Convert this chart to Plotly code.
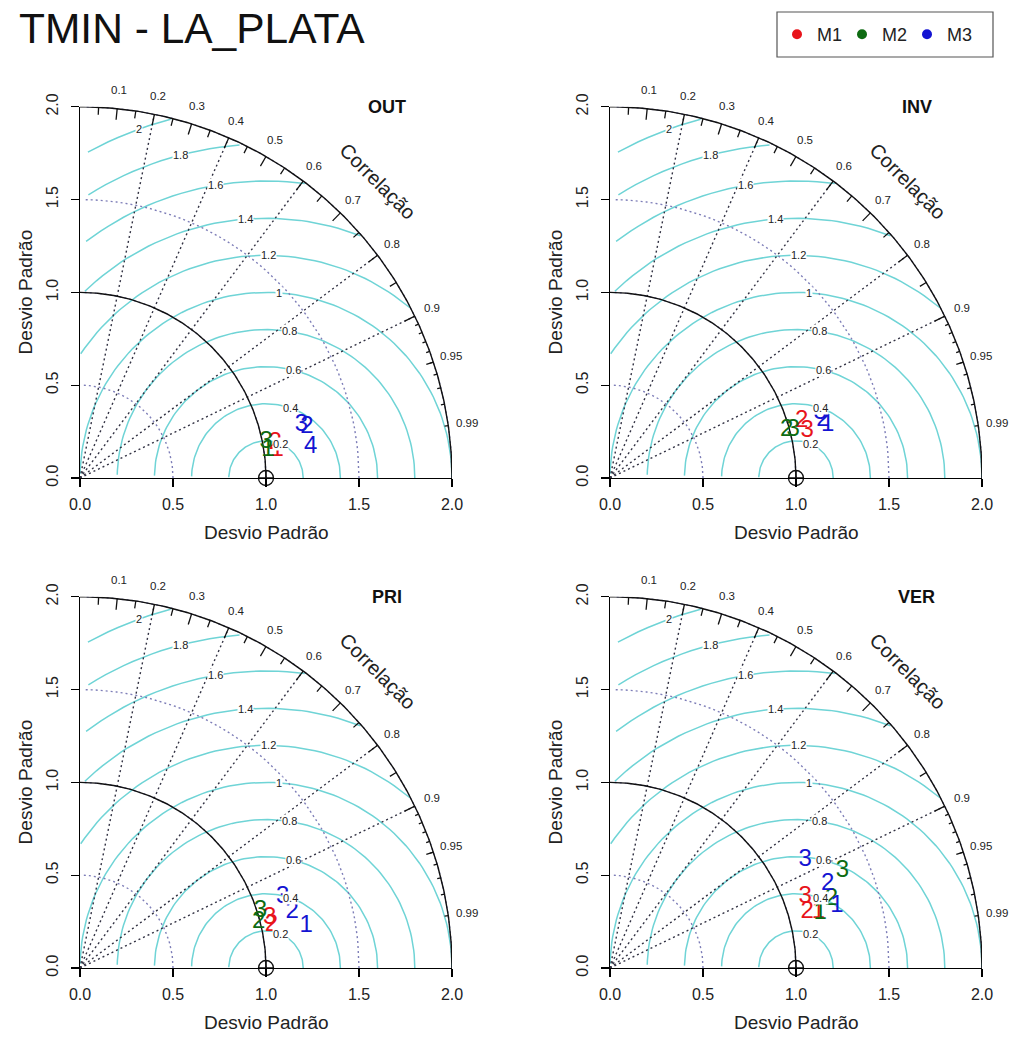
import numpy as np
import plotly.graph_objects as go

W, H = 1012, 1039

# ---------------- data ----------------
TITLE = "TMIN - LA_PLATA"
PANELS = ["OUT", "INV", "PRI", "VER"]
MODELS = ["M1", "M2", "M3"]
MODEL_COLORS = ["#E8141B", "#0E6B12", "#1414D2"]

OUT_MODEL = ["M1", "M1", "M2", "M2", "M3", "M3", "M3"]
OUT_ID = ["2", "1", "3", "1", "3", "2", "4"]
OUT_SD = [1.067, 1.071, 1.019, 1.021, 1.225, 1.250, 1.252]
OUT_COR = [0.984, 0.990, 0.982, 0.989, 0.972, 0.976, 0.991]

INV_MODEL = ["M1", "M1", "M2", "M2", "M3", "M3", "M3"]
INV_ID = ["2", "3", "2", "3", "3", "2", "1"]
INV_SD = [1.076, 1.089, 0.985, 1.019, 1.183, 1.186, 1.204]
INV_COR = [0.958, 0.973, 0.965, 0.967, 0.955, 0.965, 0.972]

PRI_MODEL = ["M1", "M1", "M2", "M2", "M3", "M3", "M3"]
PRI_ID = ["3", "2", "3", "2", "3", "2", "1"]
PRI_SD = [1.055, 1.055, 1.018, 0.992, 1.154, 1.179, 1.237]
PRI_COR = [0.967, 0.976, 0.953, 0.968, 0.944, 0.967, 0.983]

VER_MODEL = ["M1", "M1", "M1", "M2", "M2", "M2", "M3", "M3", "M3"]
VER_ID = ["3", "2", "1", "3", "2", "1", "3", "2", "1"]
VER_SD = [1.117, 1.102, 1.160, 1.354, 1.246, 1.169, 1.200, 1.254, 1.264]
VER_COR = [0.940, 0.962, 0.966, 0.923, 0.955, 0.967, 0.875, 0.933, 0.965]

SD_TICKS = [0.0, 0.5, 1.0, 1.5, 2.0]
SD_TICK_TEXT = ["0.0", "0.5", "1.0", "1.5", "2.0"]
COR_LABELS = [0.1, 0.2, 0.3, 0.4, 0.5, 0.6, 0.7, 0.8, 0.9, 0.95, 0.99]
COR_LINES = [0.2, 0.4, 0.6, 0.8, 0.9]
RMS_LEVELS = [0.2, 0.4, 0.6, 0.8, 1.0, 1.2, 1.4, 1.6, 1.8, 2.0]
RMS_TEXT = ["0.2", "0.4", "0.6", "0.8", "1", "1.2", "1.4", "1.6", "1.8", "2"]
SD_ARCS = [0.5, 1.0, 1.5, 2.0]
REF_SD = 1.0
MAX_SD = 2.0
AXIS_TITLE = "Desvio Padrão"
COR_TITLE = "Correlação"

panel_data = {
    "OUT": (OUT_MODEL, OUT_ID, OUT_SD, OUT_COR),
    "INV": (INV_MODEL, INV_ID, INV_SD, INV_COR),
    "PRI": (PRI_MODEL, PRI_ID, PRI_SD, PRI_COR),
    "VER": (VER_MODEL, VER_ID, VER_SD, VER_COR),
}

# ---------------- layout geometry (pixels) ----------------
PANEL_X0 = [80, 610, 80, 610]
PANEL_Y0 = [478, 478, 968, 968]
PX_X = 186.0
PX_Y = 185.6

FONT = "Liberation Sans, Arial, Helvetica, sans-serif"
CYAN = "#6FD4D6"
SDARC_COL = "#7E7EB8"
TXT = "#222222"

fig = go.Figure()
annotations = []
shapes = []
layout_axes = {}

theta = np.arange(0, np.pi + 1e-9, 0.03)
labelpos = np.floor(np.linspace(40, 65, len(RMS_LEVELS))).astype(int) - 1


def seg_lines(angles, r0, r1):
    xs, ys = [], []
    for a in angles:
        xs += [r0 * np.cos(a), r1 * np.cos(a), None]
        ys += [r0 * np.sin(a), r1 * np.sin(a), None]
    return xs, ys


def to_paper(i, x, y, dx=0.0, dy=0.0):
    px = PANEL_X0[i] + x * PX_X + dx
    py = PANEL_Y0[i] - y * PX_Y + dy
    return px / W, 1 - py / H


def ann(**kw):
    d = dict(showarrow=False, xanchor="center", yanchor="middle")
    d.update(kw)
    annotations.append(d)


for i, pname in enumerate(PANELS):
    sfx = "" if i == 0 else str(i + 1)
    xa, ya = "x" + sfx, "y" + sfx
    x0, y0 = PANEL_X0[i], PANEL_Y0[i]
    common = dict(range=[0, 2], tickvals=SD_TICKS, ticktext=SD_TICK_TEXT,
                  ticks="outside", ticklen=8, tickwidth=1.2, tickcolor="black",
                  showline=True, linecolor="black", linewidth=1.3, showgrid=False,
                  zeroline=False, automargin=False, fixedrange=True,
                  tickfont=dict(family=FONT, size=16, color=TXT))
    layout_axes["xaxis" + sfx] = dict(domain=[x0 / W, (x0 + 2 * PX_X) / W],
                                      anchor=ya, ticklabelstandoff=3, **common)
    layout_axes["yaxis" + sfx] = dict(domain=[1 - y0 / H, 1 - (y0 - 2 * PX_Y) / H],
                                      anchor=xa, tickangle=-90, ticklabelstandoff=6,
                                      **common)

    # RMS (centred) arcs
    rx, ry = [], []
    for gi, g in enumerate(RMS_LEVELS):
        xc = np.cos(theta) * g + REF_SD
        yc = np.sin(theta) * g
        neg = np.where(xc < 0)[0]
        end = neg.min() - 1 if len(neg) else len(theta) - 1
        mc = xc ** 2 + yc ** 2
        out = np.where(mc > MAX_SD ** 2)[0]
        start = out.max() + 1 if len(out) else 0
        rx += list(xc[start:end + 1]) + [None]
        ry += list(yc[start:end + 1]) + [None]
    fig.add_trace(go.Scatter(x=rx, y=ry, mode="lines", xaxis=xa, yaxis=ya,
                             line=dict(color=CYAN, width=1.5), showlegend=False,
                             hoverinfo="skip"))

    # sd arcs (dotted)
    sx, sy = [], []
    for r in SD_ARCS:
        t = np.arange(0, np.pi / 2 + 1e-9, 0.03)
        sx += list(np.cos(t) * r) + [None]
        sy += list(np.sin(t) * r) + [None]
    fig.add_trace(go.Scatter(x=sx, y=sy, mode="lines", xaxis=xa, yaxis=ya,
                             line=dict(color=SDARC_COL, width=1.4, dash="2px,3px"),
                             showlegend=False, hoverinfo="skip"))

    # correlation rays (dotted)
    cx, cy = [], []
    for c in COR_LINES:
        a = np.arccos(c)
        cx += [0, MAX_SD * np.cos(a), None]
        cy += [0, MAX_SD * np.sin(a), None]
    fig.add_trace(go.Scatter(x=cx, y=cy, mode="lines", xaxis=xa, yaxis=ya,
                             line=dict(color="#333344", width=1.4, dash="2px,3px"),
                             showlegend=False, hoverinfo="skip"))

    # outer arc + reference arc (solid)
    t = np.linspace(0, np.pi / 2, 200)
    ox = list(np.cos(t) * MAX_SD) + [None] + list(np.cos(t) * REF_SD)
    oy = list(np.sin(t) * MAX_SD) + [None] + list(np.sin(t) * REF_SD)
    fig.add_trace(go.Scatter(x=ox, y=oy, mode="lines", xaxis=xa, yaxis=ya,
                             line=dict(color="#111111", width=1.4),
                             showlegend=False, hoverinfo="skip"))

    # tick marks on the outer arc
    big = np.arccos(np.arange(0.1, 0.91, 0.1))
    med = np.arccos(np.arange(0.05, 0.96, 0.1))
    sml = np.arccos(np.arange(0.91, 0.995, 0.01))
    tx, ty = [], []
    for ang, f in ((big, 0.97), (med, 0.98), (sml, 0.99)):
        a_, b_ = seg_lines(ang, MAX_SD, MAX_SD * f)
        tx += a_
        ty += b_
    fig.add_trace(go.Scatter(x=tx, y=ty, mode="lines", xaxis=xa, yaxis=ya,
                             line=dict(color="#111111", width=1.3),
                             showlegend=False, hoverinfo="skip"))

    # reference point
    fig.add_trace(go.Scatter(x=[REF_SD], y=[0], mode="markers", xaxis=xa, yaxis=ya,
                             marker=dict(symbol="circle-cross-open", size=15,
                                         color="#111111", line=dict(width=1.3)),
                             cliponaxis=False, showlegend=False, hoverinfo="skip"))

    # RMS labels (boxed)
    for gi, g in enumerate(RMS_LEVELS):
        th = theta[labelpos[gi]]
        lx = np.cos(th) * g + REF_SD
        ly = np.sin(th) * g
        if lx > 0:
            ann(x=lx, y=ly, xref=xa, yref=ya, text=RMS_TEXT[gi], bgcolor="white",
                borderpad=0, font=dict(family=FONT, size=11, color=TXT))

    # model points (numbers)
    mdl, ids, sds, cors = panel_data[pname]
    for mi, m in enumerate(MODELS):
        idx = [k for k in range(len(mdl)) if mdl[k] == m]
        if not idx:
            continue
        s = np.array([sds[k] for k in idx])
        c = np.array([cors[k] for k in idx])
        fig.add_trace(go.Scatter(
            x=s * c, y=s * np.sin(np.arccos(c)), mode="text",
            text=[ids[k] for k in idx], textposition="middle center",
            textfont=dict(family=FONT, size=24, color=MODEL_COLORS[mi]),
            xaxis=xa, yaxis=ya, cliponaxis=False, showlegend=False,
            hoverinfo="skip"))

    # correlation labels
    for c in COR_LABELS:
        a = np.arccos(c)
        px_, py_ = to_paper(i, 1.05 * MAX_SD * np.cos(a), 1.05 * MAX_SD * np.sin(a))
        ann(x=px_, y=py_, xref="paper", yref="paper", text=str(c),
            font=dict(family=FONT, size=11.5, color=TXT))
    ann(x=0.8 * MAX_SD, y=0.8 * MAX_SD, xref=xa, yref=ya, text=COR_TITLE,
        textangle=45, font=dict(family=FONT, size=20, color=TXT))
    # panel name
    ann(x=1.65, y=2.0, xref=xa, yref=ya, text="<b>%s</b>" % pname,
        font=dict(family=FONT, size=18, color="#111"))
    # axis titles
    px_, py_ = to_paper(i, 1.0, 0.0, dy=54)
    ann(x=px_, y=py_, xref="paper", yref="paper", text=AXIS_TITLE,
        font=dict(family=FONT, size=19, color=TXT))
    px_, py_ = to_paper(i, 0.0, 1.0, dx=-55)
    ann(x=px_, y=py_, xref="paper", yref="paper", text=AXIS_TITLE, textangle=-90,
        font=dict(family=FONT, size=19, color=TXT))

# legend entries
for mi, m in enumerate(MODELS):
    fig.add_trace(go.Scatter(x=[None], y=[None], mode="markers", name=m,
                             marker=dict(size=10, color=MODEL_COLORS[mi]),
                             xaxis="x", yaxis="y", showlegend=True))

shapes.append(dict(type="rect", xref="paper", yref="paper", x0=777 / W, x1=993 / W,
                   y0=1 - 57 / H, y1=1 - 12 / H, line=dict(color="#555555", width=1.2),
                   fillcolor="rgba(0,0,0,0)"))

ann(x=17 / W, y=1 - 28 / H, xref="paper", yref="paper", xanchor="left",
    text=TITLE, font=dict(family=FONT, size=42.5, color="#111"))

fig.update_layout(
    width=W, height=H, autosize=False,
    margin=dict(l=0, r=0, t=0, b=0, autoexpand=False),
    paper_bgcolor="white", plot_bgcolor="white",
    annotations=annotations, shapes=shapes,
    showlegend=True,
    legend=dict(orientation="h", x=777 / W, xanchor="left", y=1 - 34.5 / H,
                yanchor="middle", borderwidth=0, bgcolor="rgba(0,0,0,0)",
                font=dict(family=FONT, size=18, color=TXT),
                entrywidth=20, entrywidthmode="pixels"),
    **layout_axes)

fig.write_html("out.html", config={"displayModeBar": False, "staticPlot": True},
               post_script="document.body.style.margin='0px';"
                           "document.body.style.overflow='hidden';")
